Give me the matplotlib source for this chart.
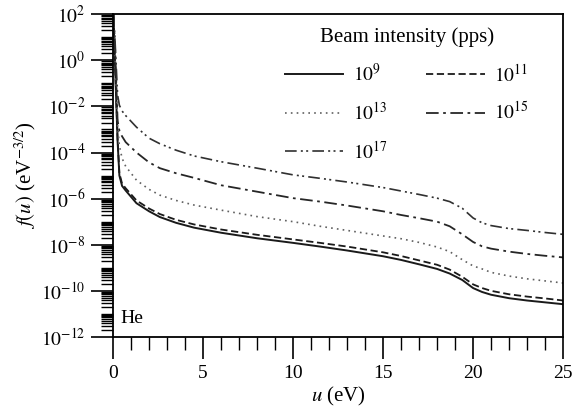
import numpy as np
import matplotlib
matplotlib.use('Agg')
import matplotlib.pyplot as plt
from matplotlib.ticker import (FixedLocator, FuncFormatter, MultipleLocator,
                               NullFormatter)

plt.rcParams['font.family'] = ['Liberation Serif', 'DejaVu Serif']
plt.rcParams['mathtext.fontset'] = 'stix'

# electron energy grid (eV)
u = [0.02, 0.1, 0.25, 0.35, 0.5, 0.7, 1.3, 2.0, 2.6, 3.5, 4.5, 6.0, 8.0,
     10.0, 11.5, 13.0, 15.0, 16.0, 17.0, 18.0, 18.7, 19.4, 20.0, 20.5,
     21.0, 22.0, 23.0, 24.0, 25.0]

# log10 f(u) for each beam intensity
logf_1e9 = [2.0, 0.0, -3.5, -5.0, -5.45, -5.65, -6.2, -6.55, -6.8, -7.05,
            -7.26, -7.48, -7.72, -7.92, -8.08, -8.25, -8.5, -8.66, -8.85,
            -9.05, -9.25, -9.53, -9.88, -10.05, -10.17, -10.32, -10.42,
            -10.5, -10.58]
logf_1e11 = [2.0, 0.1, -3.4, -4.9, -5.35, -5.55, -6.08, -6.43, -6.67, -6.92,
             -7.12, -7.34, -7.57, -7.77, -7.92, -8.08, -8.33, -8.49, -8.68,
             -8.87, -9.08, -9.39, -9.72, -9.88, -10.0, -10.15, -10.25,
             -10.33, -10.42]
logf_1e13 = [2.0, 0.5, -2.8, -3.7, -4.25, -4.6, -5.2, -5.6, -5.85, -6.08,
             -6.28, -6.5, -6.78, -7.0, -7.2, -7.38, -7.62, -7.74, -7.9,
             -8.1, -8.3, -8.65, -8.92, -9.05, -9.2, -9.36, -9.48, -9.57,
             -9.66]
logf_1e15 = [2.0, 0.8, -2.6, -3.05, -3.3, -3.55, -4.0, -4.43, -4.68, -4.9,
             -5.1, -5.42, -5.7, -5.98, -6.13, -6.3, -6.55, -6.71, -6.85,
             -7.0, -7.2, -7.55, -7.88, -8.07, -8.17, -8.3, -8.4, -8.48,
             -8.55]
logf_1e17 = [2.0, 1.0, -1.5, -1.95, -2.2, -2.4, -2.9, -3.38, -3.62, -3.9,
             -4.15, -4.4, -4.68, -4.97, -5.12, -5.28, -5.52, -5.67, -5.82,
             -5.98, -6.13, -6.42, -6.84, -7.05, -7.17, -7.3, -7.38, -7.47,
             -7.55]

labels = [r'$10^{9}$', r'$10^{11}$', r'$10^{13}$', r'$10^{15}$', r'$10^{17}$']
styles = ['-', (0, (4, 2)), (0, (1, 2.5)), (0, (7, 2.5, 1.5, 2.5)),
          (0, (7, 2.5, 1.2, 2, 1.2, 2.5))]
colors = ['#1a1a1a', '#1a1a1a', '#606060', '#262626', '#303030']
widths = [1.4, 1.3, 1.2, 1.3, 1.2]

fig = plt.figure(figsize=(5.74, 4.17), dpi=100)
ax = fig.add_axes([0.197, 0.192, 0.784, 0.774])

series = [logf_1e9, logf_1e11, logf_1e13, logf_1e15, logf_1e17]
lines = []
for lf, lab, ls, c, lw in zip(series, labels, styles, colors, widths):
    ln, = ax.plot(u, 10.0 ** np.array(lf), linestyle=ls, color=c, lw=lw,
                  label=lab)
    lines.append(ln)

ax.set_yscale('log')
ax.set_xlim(0, 25)
ax.set_ylim(1e-12, 1e2)

ax.xaxis.set_major_locator(MultipleLocator(5))
ax.xaxis.set_minor_locator(MultipleLocator(1))
majors = [10.0 ** k for k in range(-12, 3, 2)]
minors = [m * 10.0 ** k for k in range(-12, 2) for m in range(1, 10)
          if not (m == 1 and k % 2 == 0)]
ax.yaxis.set_major_locator(FixedLocator(majors))
ax.yaxis.set_minor_locator(FixedLocator(minors))
ax.yaxis.set_major_formatter(FuncFormatter(
    lambda v, p: r'$10^{%d}$' % round(np.log10(v))))
ax.yaxis.set_minor_formatter(NullFormatter())

ax.tick_params(which='major', direction='out', length=16, width=1.2,
               labelsize=14, pad=4)
ax.tick_params(which='minor', direction='out', length=9, width=1.0)
for s in ax.spines.values():
    s.set_linewidth(1.3)

ax.set_xlabel(r'$u$ (eV)', fontsize=15, labelpad=2)
ax.set_ylabel(r'$f(u)$ (eV$^{-3/2}$)', fontsize=15, labelpad=2)

ax.text(0.016, 0.03, 'He', transform=ax.transAxes, fontsize=14,
        ha='left', va='bottom')

# legend filled row by row: 1e9, 1e11 / 1e13, 1e15 / 1e17
order = [0, 2, 4, 1, 3]
ax.legend([lines[i] for i in order], [labels[i] for i in order],
          ncol=2, title='Beam intensity (pps)', frameon=False,
          fontsize=14, title_fontsize=15, handlelength=3.0,
          handletextpad=0.5, columnspacing=2.0, labelspacing=0.85,
          loc='upper right', bbox_to_anchor=(0.963, 1.015))

fig.savefig('out.png', dpi=100)
